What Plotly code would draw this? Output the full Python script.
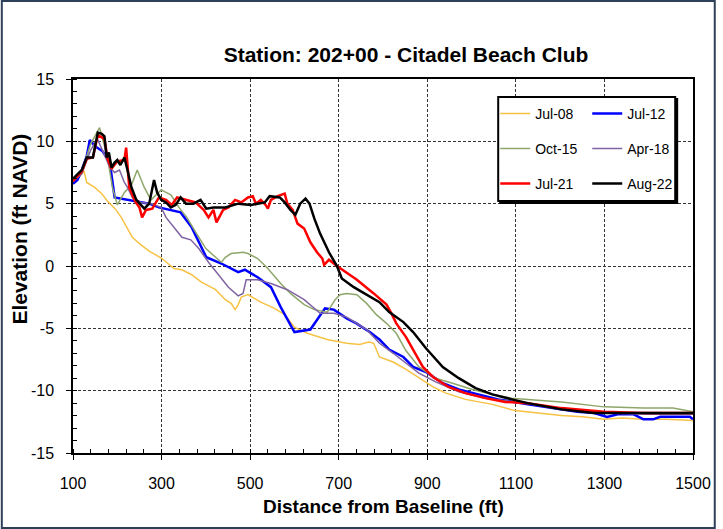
import plotly.graph_objects as go

# ---------------- data ----------------
SERIES_NAMES = ["Jul-08", "Jul-12", "Oct-15", "Apr-18", "Jul-21", "Aug-22"]

JUL08_X = [100, 115, 125, 131, 149, 165, 178, 195, 209, 222, 234, 250, 272, 301, 328, 346, 368, 390, 422, 444,
           457, 466, 473, 480, 495, 524, 555, 578, 600, 629, 674, 718, 747, 768, 779, 792, 823, 852, 881, 913,
           942, 986, 1047, 1098, 1150, 1203, 1250, 1299, 1340, 1388, 1440, 1500]
JUL08_Y = [7.0, 7.2, 7.6, 6.7, 6.3, 5.8, 5.2, 4.6, 3.9, 3.1, 2.3, 1.8, 1.2, 0.6, -0.2, -0.3, -0.7, -1.3, -1.9, -2.7,
           -3.0, -3.5, -3.1, -2.5, -2.3, -2.9, -3.4, -3.9, -4.9, -5.4, -5.9, -6.2, -6.3, -6.1, -6.2, -7.3, -7.7, -8.3, -9.0, -9.7,
           -10.2, -10.7, -11.1, -11.6, -11.8, -12.0, -12.1, -12.3, -12.2, -12.3, -12.3, -12.4]

JUL12_X = [100, 110, 120, 131, 138, 150, 167, 183, 194, 209, 250, 272, 294, 317, 343, 368, 401, 435, 473, 488,
           517, 547, 569, 600, 636, 669, 689, 718, 740, 770, 792, 814, 846, 868, 897, 935, 971, 1015, 1060, 1127,
           1203, 1239, 1277, 1306, 1330, 1366, 1388, 1410, 1426, 1460, 1493, 1500]
JUL12_Y = [6.6, 6.9, 7.7, 8.8, 10.1, 9.6, 9.2, 8.3, 5.5, 5.4, 5.1, 5.0, 4.7, 4.5, 4.3, 3.1, 0.7, 0.2, -0.5, -0.3,
           -0.9, -1.7, -3.3, -5.3, -5.1, -3.4, -3.5, -4.2, -4.6, -5.3, -5.9, -6.7, -7.3, -8.1, -8.5, -9.4, -9.9, -10.3, -10.7, -11.1,
           -11.5, -11.7, -11.8, -12.1, -11.9, -11.9, -12.3, -12.3, -12.1, -12.1, -12.1, -12.3]

OCT15_X = [100, 120, 140, 160, 178, 189, 200, 216, 232, 245, 261, 276, 299, 321, 339, 357, 379, 400, 422, 435,
           444, 457, 484, 495, 517, 540, 569, 591, 622, 645, 674, 692, 703, 718, 741, 763, 785, 808, 830, 852,
           881, 919, 957, 1002, 1047, 1091, 1127, 1203, 1299, 1388, 1455, 1500]
OCT15_Y = [6.8, 7.6, 9.8, 11.1, 8.7, 6.3, 4.9, 5.9, 6.5, 7.7, 6.3, 5.3, 6.1, 5.7, 4.7, 3.9, 2.6, 1.4, 0.7, 0.3,
           0.7, 1.0, 1.1, 1.0, 0.6, -0.2, -1.4, -2.2, -3.1, -3.5, -3.7, -2.7, -2.3, -2.2, -2.3, -3.0, -3.9, -4.6, -5.4, -6.8,
           -8.1, -9.0, -9.4, -9.9, -10.3, -10.6, -10.7, -10.9, -11.3, -11.4, -11.4, -11.7]

APR18_X = [100, 120, 140, 155, 170, 183, 194, 205, 216, 223, 234, 254, 276, 299, 310, 328, 346, 366, 384, 406,
           428, 451, 473, 484, 491, 517, 547, 584, 622, 658, 689, 718, 763, 792, 823, 852, 881, 919, 971, 1031,
           1120, 1200, 1300, 1400, 1500]
APR18_Y = [6.8, 7.4, 9.3, 10.2, 9.0, 7.9, 7.5, 7.7, 6.7, 6.3, 5.5, 5.1, 5.0, 4.7, 3.9, 3.1, 2.3, 2.1, 1.4, 0.3,
           -0.7, -1.7, -2.4, -2.2, -1.1, -1.1, -1.4, -1.9, -2.7, -3.8, -3.8, -4.1, -5.1, -6.2, -7.0, -7.8, -8.6, -9.3, -10.1, -10.6,
           -11.0, -11.5, -11.8, -11.9, -11.9]

JUL21_X = [100, 120, 131, 145, 156, 171, 178, 187, 200, 216, 220, 227, 240, 250, 256, 265, 279, 294, 310, 323,
           335, 355, 377, 395, 406, 417, 424, 439, 451, 466, 480, 495, 506, 513, 524, 535, 540, 547, 562, 578,
           584, 596, 607, 622, 636, 651, 663, 667, 678, 696, 741, 779, 808, 819, 830, 852, 868, 890, 913, 948,
           986, 1031, 1076, 1127, 1203, 1299, 1388, 1500]
JUL21_Y = [6.8, 7.6, 8.6, 8.7, 10.5, 10.2, 8.6, 7.8, 8.4, 8.5, 9.5, 6.3, 5.2, 4.7, 3.9, 4.5, 4.6, 5.5, 5.3, 4.9,
           5.5, 5.3, 5.1, 4.5, 3.9, 4.5, 3.5, 4.5, 4.7, 5.3, 5.1, 5.5, 5.6, 5.0, 5.3, 4.9, 4.6, 5.3, 5.6, 5.8,
           5.0, 4.5, 3.4, 3.0, 1.9, 1.1, 0.6, 0.1, 0.5, 0.0, -1.1, -2.2, -3.1, -3.8, -4.6, -5.7, -6.7, -8.1, -8.9, -9.7,
           -10.2, -10.6, -10.9, -11.0, -11.4, -11.7, -11.8, -11.8]

AUG22_X = [100, 120, 131, 145, 156, 165, 171, 176, 181, 187, 194, 200, 207, 216, 223, 232, 243, 254, 261, 272,
           283, 290, 299, 310, 321, 332, 343, 355, 372, 388, 401, 417, 444, 473, 502, 533, 544, 567, 578, 591,
           602, 613, 625, 634, 645, 658, 678, 696, 707, 734, 763, 792, 814, 846, 868, 897, 935, 971, 1009, 1047,
           1091, 1127, 1203, 1277, 1388, 1500]
AUG22_Y = [7.0, 7.7, 8.7, 8.7, 10.7, 10.6, 10.4, 8.7, 9.1, 7.9, 8.3, 8.5, 8.1, 8.7, 7.7, 6.3, 5.3, 4.9, 4.6, 5.0,
           6.9, 5.9, 5.3, 5.1, 4.7, 4.9, 5.5, 5.0, 5.0, 5.3, 4.6, 4.7, 4.7, 5.0, 4.9, 5.1, 5.6, 5.5, 5.1, 4.5,
           4.1, 5.0, 5.4, 5.0, 3.8, 2.6, 1.1, 0.0, -1.0, -1.7, -2.3, -2.9, -3.7, -4.5, -5.3, -6.6, -8.1, -9.0, -9.8, -10.3,
           -10.7, -11.0, -11.5, -11.8, -11.8, -11.8]

X_TICKS = [100, 300, 500, 700, 900, 1100, 1300, 1500]
Y_TICKS = [-15, -10, -5, 0, 5, 10, 15]

# ---------------- styling ----------------
COLORS = ["#F7C244", "#0000FF", "#8FA66B", "#8064A2", "#FF0000", "#000000"]
WIDTHS = [1.5, 2.5, 1.5, 1.5, 2.5, 2.5]
LEGEND_IDS = ["legend", "legend", "legend2", "legend2", "legend3", "legend3"]
FONT = "Liberation Sans, Arial, sans-serif"

W, H = 723, 529
L, R, T, B = 73, 23, 79, 76
PW, PH = W - L - R, H - T - B


def px_x(p):
    return (p - L) / PW


def px_y(p):
    return (H - B - p) / PH


fig = go.Figure()
all_x = [JUL08_X, JUL12_X, OCT15_X, APR18_X, JUL21_X, AUG22_X]
all_y = [JUL08_Y, JUL12_Y, OCT15_Y, APR18_Y, JUL21_Y, AUG22_Y]
for name, xs, ys, c, w, lg in zip(SERIES_NAMES, all_x, all_y, COLORS, WIDTHS, LEGEND_IDS):
    fig.add_trace(go.Scatter(x=xs, y=ys, mode="lines", name=name,
                             line=dict(color=c, width=w), legend=lg))

axis_common = dict(
    showline=True, linecolor="black", linewidth=1.5, mirror=True,
    showgrid=True, gridcolor="#333333", gridwidth=1, griddash="3px,2px",
    zeroline=False, ticks="outside", ticklen=5, tickcolor="black",
    tickfont=dict(family=FONT, size=16, color="black"),
)

fig.update_xaxes(range=[100, 1500], tickmode="array", tickvals=X_TICKS,
                 ticktext=[str(v) for v in X_TICKS], ticklabelstandoff=10,
                 minor=dict(ticks="inside", dtick=40, tick0=100, ticklen=4,
                            tickcolor="black", showgrid=False),
                 **axis_common)
fig.update_yaxes(range=[-15, 15], tickmode="array", tickvals=Y_TICKS,
                 ticktext=[str(v) for v in Y_TICKS], ticklabelstandoff=9,
                 minor=dict(ticks="inside", dtick=1, tick0=0, ticklen=4,
                            tickcolor="black", showgrid=False),
                 **axis_common)

leg_common = dict(orientation="h", xanchor="left", yanchor="middle",
                  bgcolor="rgba(0,0,0,0)", borderwidth=0,
                  font=dict(family=FONT, size=14, color="black"),
                  entrywidth=47, entrywidthmode="pixels", itemwidth=30,
                  traceorder="normal")

shapes = [
    # outer chart frame
    dict(type="rect", xref="paper", yref="paper",
         x0=px_x(1), x1=px_x(722), y0=px_y(528), y1=px_y(1),
         line=dict(color="#2E4057", width=2), layer="below"),
    # legend shadow + box
    dict(type="rect", xref="paper", yref="paper",
         x0=px_x(505), x1=px_x(684), y0=px_y(203), y1=px_y(99),
         line=dict(color="black", width=2), fillcolor="black", layer="above"),
    dict(type="rect", xref="paper", yref="paper",
         x0=px_x(503), x1=px_x(682), y0=px_y(201), y1=px_y(97),
         line=dict(color="black", width=2), fillcolor="white", layer="above"),
]

fig.update_layout(
    width=W, height=H,
    margin=dict(l=L, r=R, t=T, b=B, pad=0),
    paper_bgcolor="white", plot_bgcolor="white",
    font=dict(family=FONT, color="black"),
    title=dict(text="<b>Station: 202+00 - Citadel Beach Club</b>",
               x=406 / W, xanchor="center", y=1 - 55 / H, yanchor="middle",
               font=dict(family=FONT, size=21, color="black")),
    legend=dict(x=px_x(500), y=px_y(114), **leg_common),
    legend2=dict(x=px_x(500), y=px_y(149), **leg_common),
    legend3=dict(x=px_x(500), y=px_y(184), **leg_common),
    shapes=shapes,
    annotations=[
        dict(text="<b>Distance from Baseline (ft)</b>", xref="paper", yref="paper",
             x=px_x(387), y=px_y(507), xanchor="center", yanchor="middle", showarrow=False,
             font=dict(family=FONT, size=19, color="black")),
        dict(text="<b>Elevation (ft NAVD)</b>", xref="paper", yref="paper",
             x=px_x(18), y=px_y(229), xanchor="center", yanchor="middle", showarrow=False,
             textangle=-90, font=dict(family=FONT, size=21, color="black")),
    ],
)

fig.write_html("out.html", config={"displayModeBar": False},
               post_script="document.body.style.margin='0px';")
